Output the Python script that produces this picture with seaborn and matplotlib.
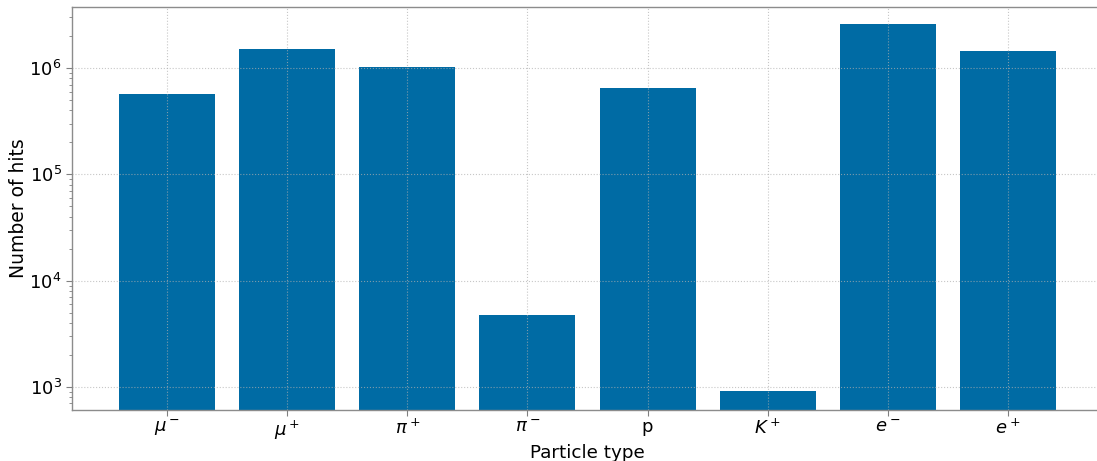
import matplotlib
matplotlib.use("Agg")
import matplotlib.pyplot as plt
import seaborn as sns
import pandas as pd

particles = [r"$\mu^-$", r"$\mu^+$", r"$\pi^+$", r"$\pi^-$", "p", r"$K^+$", r"$e^-$", r"$e^+$"]
hits = [5.7e5, 1.51e6, 1.02e6, 4.8e3, 6.5e5, 9.2e2, 2.6e6, 1.45e6]

df = pd.DataFrame({"particle": particles, "hits": hits})

sns.set_style("white")
plt.rcParams['font.family'] = ['DejaVu Sans']
plt.rcParams['text.color'] = 'black'
plt.rcParams['axes.labelcolor'] = 'black'
plt.rcParams['xtick.color'] = 'black'
plt.rcParams['ytick.color'] = 'black'

fig = plt.figure(figsize=(10.97, 4.61), dpi=100)
ax = fig.add_axes([72/1097, 51/461, (1103-72)/1097, (410-7)/461])

sns.barplot(data=df, x="particle", y="hits", color="#006BA4", saturation=1,
            width=0.8, linewidth=0, ax=ax)
ax.set_yscale("log")
ax.set_ylim(608, 3.75e6)
ax.set_xlim(-0.79, 7.79)

ax.set_axisbelow(False)
ax.grid(True, which="major", axis="both", color="#b0b0b0", linestyle=":", linewidth=0.8, alpha=0.7)

ax.set_xlabel("Particle type", fontsize=13.2, labelpad=2)
ax.set_ylabel("Number of hits", fontsize=13.5, labelpad=1)
ax.tick_params(axis="both", which="major", labelsize=13, direction="out", length=4,
               color="#808080", labelcolor="black", left=True, bottom=True)
ax.tick_params(axis="x", which="major", pad=2)
ax.tick_params(axis="y", which="minor", direction="out", length=2, color="#808080", left=True)
for s in ax.spines.values():
    s.set_color("#8c8c8c")
    s.set_linewidth(1.0)

fig.savefig("out.png", dpi=100)
